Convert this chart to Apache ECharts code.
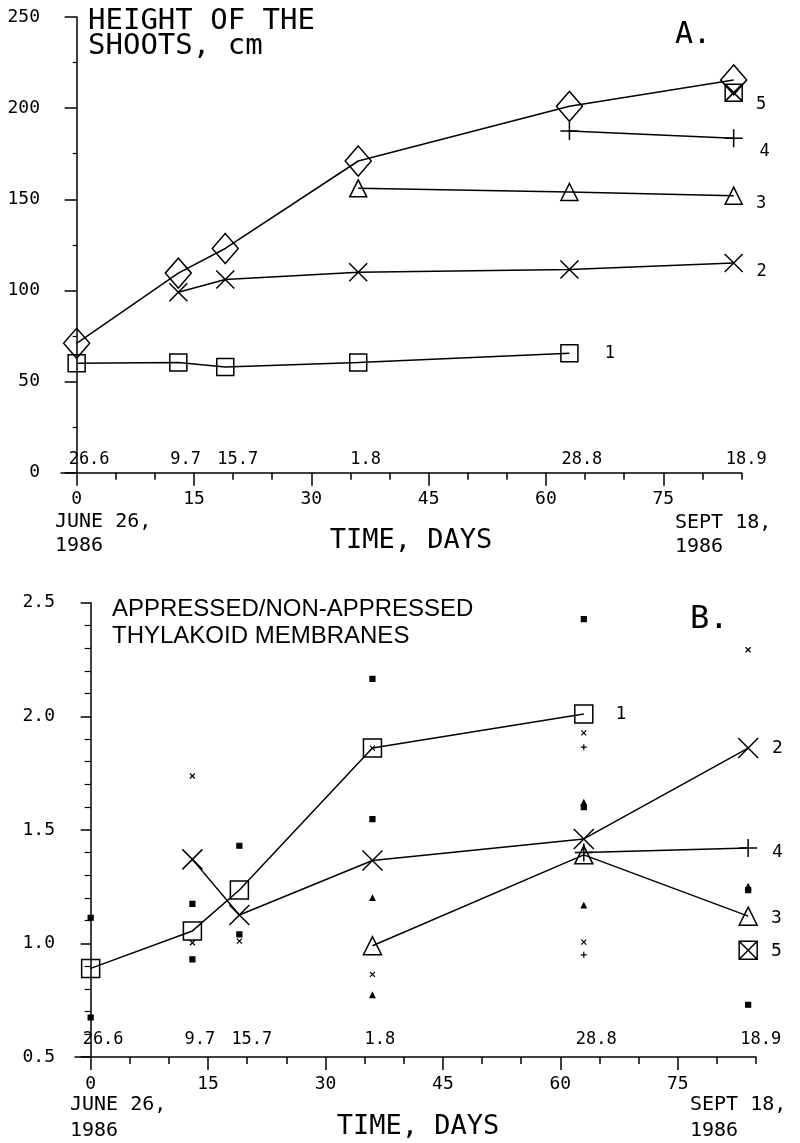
<!doctype html>
<html>

<head>
  <meta charset="utf-8">
  <title>Height of the shoots / appressed membranes</title>
  <script src="https://cdn.jsdelivr.net/npm/echarts@6/dist/echarts.min.js"></script>
  <style>
    html,
    body {
      width: 100%;
      height: 100%;
      margin: 0;
      padding: 0;
      background-color: #fff;
    }

    #main {
      width: 800px;
      height: 1143px;
    }
  </style>
</head>

<body>
  <div id="main"></div>
</body>

<script type="text/javascript">
  // sampling days (0 = June 26, 1986) and the dates written above the axis
  var days = [0, 13, 19, 36, 63, 84];
  var dateLabels = ['26.6', '9.7', '15.7', '1.8', '28.8', '18.9'];
  var xMajor = [0, 15, 30, 45, 60, 75];
  var xMinor = [5, 10, 20, 25, 35, 40, 50, 55, 65, 70, 80, 85];

  // A. height of the shoots, cm
  var heightTotal = [71, 109.5, 123, 171, 201, 215.5];
  var height1 = [60, 60.5, 58, 60.5, 65.5, null];
  var height2 = [null, 99, 106, 110, 111.5, 115];
  var height3 = [null, null, null, 156, 154, 152];
  var height4 = [null, null, null, null, 187.5, 183.5];
  var height5 = [null, null, null, null, null, 208.5];

  // B. appressed / non-appressed thylakoid membranes
  var ratio1 = [0.89, 1.055, 1.235, 1.86, 2.01, null];
  var ratio2 = [null, 1.37, 1.125, 1.365, 1.46, 1.86];
  var ratio3 = [null, null, null, 0.99, 1.39, 1.12];
  var ratio4 = [null, null, null, null, 1.40, 1.42];
  var ratio5 = [null, null, null, null, null, 0.97];
  // single measurements (small marks)
  var singleSquare = [[0, 1.113], [0, 0.674], [13, 1.174], [13, 0.93], [19, 1.43], [19, 1.04],
    [36, 2.165], [36, 1.547], [63, 2.428], [63, 1.60], [84, 1.235], [84, 0.73]];
  var singleCross = [[13, 1.737], [13, 1.003], [19, 1.01], [36, 1.86], [36, 0.864],
    [63, 1.927], [63, 1.006], [84, 2.293]];
  var singlePlus = [[63, 1.864], [63, 0.95]];
  var singleTriangle = [[36, 1.20], [36, 0.772], [63, 1.62], [63, 1.167], [84, 1.25]];

  var MONO = 'DejaVu Sans Mono';
  var xPath = 'path://M0,0L10,10M10,0L0,10';
  var plusPath = 'path://M5,0L5,10M0,5L10,5';
  var boxXPath = 'path://M0,0L10,0L10,10L0,10ZM0,0L10,10M10,0L0,10';

  function toPairs(vals) {
    var out = [];
    vals.forEach(function (v, i) {
      if (v !== null) out.push([days[i], v]);
    });
    return out;
  }

  // put the curve number beside the last point
  function endLabel(data, text, distance, dy, size) {
    var last = data[data.length - 1];
    data[data.length - 1] = {
      value: last,
      label: {
        show: true, formatter: text, position: 'right', distance: distance, offset: [0, dy],
        color: '#000', fontFamily: MONO, fontSize: size
      }
    };
    return data;
  }

  function curve(grid, vals, symbol, size, label) {
    var data = toPairs(vals);
    if (label) endLabel(data, label[0], label[1], label[2], label[3]);
    return {
      type: data.length > 1 ? 'line' : 'scatter',
      xAxisIndex: grid * 2, yAxisIndex: grid,
      data: data, symbol: symbol, symbolSize: size, clip: false,
      showSymbol: true,
      lineStyle: { color: '#000', width: 1.5 },
      itemStyle: { color: 'transparent', borderColor: '#000', borderWidth: 1.5, opacity: 1 },
      z: 3
    };
  }

  function singles(data, symbol, size) {
    return {
      type: 'scatter', xAxisIndex: 2, yAxisIndex: 1, data: data,
      symbol: symbol, symbolSize: size, clip: false,
      itemStyle: { color: '#000', borderColor: '#000', borderWidth: 1.2, opacity: 1 },
      z: 2
    };
  }

  function dateRow(grid, y) {
    return {
      type: 'scatter', xAxisIndex: grid * 2, yAxisIndex: grid, symbolSize: 0,
      data: days.map(function (d) { return [d, y]; }),
      itemStyle: { opacity: 1 },
      label: {
        show: true, position: [-8, 0], align: 'left', verticalAlign: 'middle',
        formatter: function (p) { return dateLabels[p.dataIndex]; },
        color: '#000', fontFamily: MONO, fontSize: 17
      },
      silent: true
    };
  }

  function xAxes(grid) {
    return [{
      gridIndex: grid, type: 'value', min: -2, max: 85, position: 'bottom',
      axisLine: { show: true, onZero: false, lineStyle: { color: '#000', width: 1.5 } },
      axisTick: { show: true, inside: false, customValues: xMajor, length: 13, lineStyle: { color: '#000', width: 1.5 } },
      axisLabel: { show: true, customValues: xMajor, margin: 18, color: '#000', fontFamily: MONO, fontSize: 18 },
      splitLine: { show: false }
    }, {
      gridIndex: grid, type: 'value', min: -2, max: 85, position: 'bottom', offset: 0,
      axisLine: { show: false, onZero: false },
      axisTick: { show: true, inside: false, customValues: xMinor, length: 7, lineStyle: { color: '#000', width: 1.5 } },
      axisLabel: { show: false },
      splitLine: { show: false }
    }];
  }

  var option = {
    animation: false,
    backgroundColor: '#fff',
    grid: [
      { left: 61, top: 17, width: 680.5, height: 455.7 },
      { left: 75, top: 602.7, width: 681, height: 454.3 }
    ],
    xAxis: xAxes(0).concat(xAxes(1)),
    yAxis: [{
      gridIndex: 0, type: 'value', min: 0, max: 250, interval: 50,
      axisLine: { show: true, lineStyle: { color: '#000', width: 1.5 } },
      axisTick: { show: true, length: 12, lineStyle: { color: '#000', width: 1.5 } },
      minorTick: { show: true, splitNumber: 2, length: 4, lineStyle: { color: '#000', width: 1.2 } },
      axisLabel: { margin: 21, color: '#000', fontFamily: MONO, fontSize: 18 },
      splitLine: { show: false }
    }, {
      gridIndex: 1, type: 'value', min: 0.5, max: 2.5, interval: 0.5,
      axisLine: { show: true, lineStyle: { color: '#000', width: 1.5 } },
      axisTick: { show: true, length: 10, lineStyle: { color: '#000', width: 1.5 } },
      minorTick: { show: true, splitNumber: 5, length: 6, lineStyle: { color: '#000', width: 1.2 } },
      axisLabel: {
        margin: 20, color: '#000', fontFamily: MONO, fontSize: 18,
        formatter: function (v) { return v.toFixed(1); }
      },
      splitLine: { show: false }
    }],
    series: [
      // A
      curve(0, height1, 'rect', 17, ['1', 26, 0, 17]),
      curve(0, height2, xPath, 18, ['2', 13, 9, 17]),
      curve(0, height3, 'triangle', 17, ['3', 13, 8, 17]),
      curve(0, height4, plusPath, 18, ['4', 16, 13, 17]),
      curve(0, heightTotal, 'diamond', [26, 30], null),
      curve(0, height5, boxXPath, 17, ['5', 13, 12, 17]),
      dateRow(0, 7),
      // B
      curve(1, ratio1, 'rect', 18, ['1', 22, 0, 18]),
      curve(1, ratio2, xPath, 20, ['2', 13, 0, 18]),
      curve(1, ratio3, 'triangle', 18, ['3', 13, 2, 18]),
      curve(1, ratio4, plusPath, 18, ['4', 14, 4, 18]),
      curve(1, ratio5, boxXPath, 18, ['5', 13, 1, 18]),
      singles(singleSquare, 'rect', 5),
      singles(singleCross, xPath, 5),
      singles(singlePlus, plusPath, 6),
      singles(singleTriangle, 'triangle', 5),
      dateRow(1, 0.575)
    ],
    graphic: [
      {
        type: 'text', x: 88, y: 33.5,
        style: { text: 'HEIGHT OF THE\nSHOOTS, cm', font: '29px "DejaVu Sans Mono"', lineHeight: 25, fill: '#000', textVerticalAlign: 'middle' }
      },
      { type: 'text', x: 675, y: 35, style: { text: 'A.', font: '30px "DejaVu Sans Mono"', fill: '#000', textVerticalAlign: 'middle' } },
      { type: 'text', x: 411, y: 541, style: { text: 'TIME, DAYS', font: '27px "DejaVu Sans Mono"', fill: '#000', textAlign: 'center', textVerticalAlign: 'middle' } },
      { type: 'text', x: 55, y: 534, style: { text: 'JUNE 26,\n1986', font: '20px "DejaVu Sans Mono"', lineHeight: 24, fill: '#000', textVerticalAlign: 'middle' } },
      { type: 'text', x: 675, y: 535, style: { text: 'SEPT 18,\n1986', font: '20px "DejaVu Sans Mono"', lineHeight: 24, fill: '#000', textVerticalAlign: 'middle' } },
      {
        type: 'text', x: 112, y: 622.5,
        style: { text: 'APPRESSED/NON-APPRESSED\nTHYLAKOID MEMBRANES', font: '24px "Liberation Sans"', lineHeight: 27, fill: '#000', textVerticalAlign: 'middle' }
      },
      { type: 'text', x: 690, y: 620, style: { text: 'B.', font: '32px "DejaVu Sans Mono"', fill: '#000', textVerticalAlign: 'middle' } },
      { type: 'text', x: 418, y: 1127, style: { text: 'TIME, DAYS', font: '27px "DejaVu Sans Mono"', fill: '#000', textAlign: 'center', textVerticalAlign: 'middle' } },
      { type: 'text', x: 70, y: 1118, style: { text: 'JUNE 26,\n1986', font: '20px "DejaVu Sans Mono"', lineHeight: 26, fill: '#000', textVerticalAlign: 'middle' } },
      { type: 'text', x: 690, y: 1118, style: { text: 'SEPT 18,\n1986', font: '20px "DejaVu Sans Mono"', lineHeight: 26, fill: '#000', textVerticalAlign: 'middle' } }
    ]
  };

  var myChart = echarts.init(document.getElementById('main'));
  myChart.setOption(option);
</script>

</html>
